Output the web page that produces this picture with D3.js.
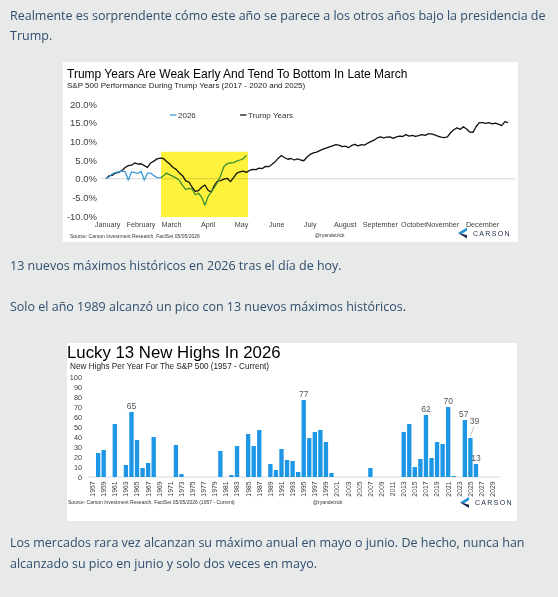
<!DOCTYPE html>
<html><head><meta charset="utf-8">
<script src="https://cdn.jsdelivr.net/npm/d3@7"></script>
<style>
html,body{margin:0;padding:0;background:#e8e9e9;}
svg{display:block;}
</style></head><body>
<svg id="page" width="558" height="597"></svg>
<script>
// ---------- Post text ----------
const paraLines = [
  "Realmente es sorprendente cómo este año se parece a los otros años bajo la presidencia de",
  "Trump.",
  "13 nuevos máximos históricos en 2026 tras el día de hoy.",
  "Solo el año 1989 alcanzó un pico con 13 nuevos máximos históricos.",
  "Los mercados rara vez alcanzan su máximo anual en mayo o junio. De hecho, nunca han",
  "alcanzado su pico en junio y solo dos veces en mayo."
];

// ---------- Chart 1 data ----------
const chart1Title = "Trump Years Are Weak Early And Tend To Bottom In Late March";
const chart1Subtitle = "S&P 500 Performance During Trump Years (2017 - 2020 and 2025)";
const chart1Source = "Source: Carson Investment Research, FactSet 05/05/2026";
const monthLabels = ["January","February","March","April","May","June","July","August","September","October","November","December"];
const monthTickDays = [1,22,41,64,85,107,128,150,172,193,211,236];
const yTicks1 = [-10,-5,0,5,10,15,20];
const dayStep = 2; // one value every 2 trading days
const trumpYears = [
  0,0.8,0.9,1.5,1.7,2.2,3.0,3.5,3.6,4.2,
  3.9,4.0,3.5,3.0,4.2,4.7,5.3,5.5,5.4,4.6,
  3.9,3.0,2.5,1.5,0.8,-0.6,-0.9,-2.3,-3.4,-3.2,
  -2.3,-1.7,-3.1,-3.6,-1.8,-0.6,-0.5,-0.1,0.1,-0.8,
  0.3,1.5,1.8,2.0,1.7,2.2,2.5,2.4,2.8,2.7,
  3.3,3.2,3.8,4.5,5.5,6.2,5.6,5.2,5.4,5.0,
  5.3,5.0,4.8,5.8,6.5,6.9,7.1,7.5,7.9,8.2,
  8.5,8.8,9.1,9.0,8.6,8.7,8.3,8.9,9.2,8.8,
  9.1,9.0,9.5,9.9,10.3,10.9,11.2,10.9,11.1,11.2,
  10.8,11.2,11.4,11.3,11.8,11.4,11.6,11.3,11.5,11.8,
  11.6,12.0,12.0,11.7,11.4,11.1,11.0,11.2,12.3,13.1,
  13.6,13.2,13.9,13.3,12.5,12.4,13.9,15.0,15.0,14.8,
  15.0,14.7,14.9,14.6,14.2,15.3,15.0
];
const year2026 = [
  0,0.5,1.3,1.7,1.8,2.0,1.9,-0.4,1.8,1.6,
  1.4,2.0,-0.4,1.5,1.5,0.8,0.3,0.2,0.8,1.5,
  1.0,0.6,0.2,-0.5,-1.8,-2.9,-2.6,-2.8,-4.3,-3.9,
  -5.0,-7.1,-4.8,-3.5,-2.3,-0.9,1.0,3.3,4.0,4.2,
  4.3,4.7,5.0,5.3,6.2
];
const highlight = {startDay: 34.5, endDay: 89, top: 7.2, bottom: -10.3};
const legend1 = [{name:"2026", color:"#3c97d6"}, {name:"Trump Years", color:"#111111"}];

// ---------- Chart 2 data ----------
const chart2Title = "Lucky 13 New Highs In 2026";
const chart2Subtitle = "New Highs Per Year For The S&P 500 (1957 - Current)";
const chart2Source = "Source: Carson Investment Research, FactSet 05/05/2026 (1957 - Current)";
const years = d3.range(1957, 2030);
const newHighs = [
  0,24,27,0,53,0,12,65,37,9,
  14,40,0,0,0,32,3,0,0,0,
  0,0,0,26,0,2,31,0,43,31,
  47,0,13,7,28,17,16,5,77,39,
  45,47,35,4,0,0,0,0,0,0,
  9,0,0,0,0,0,45,53,10,18,
  62,19,35,33,70,1,0,57,39,13,
  0,0,0
];
const labeledYears = [1964,1995,2017,2021,2024,2025,2026];
const yTicks2 = d3.range(0, 101, 10);

// ---------- Drawing ----------
const svg = d3.select("#page");
const TEXT_COLOR = "#304e6e";
const paraY = [19.5, 40, 269.5, 310.5, 547, 568];
svg.selectAll("text.para").data(paraLines).join("text")
  .attr("class","para")
  .attr("x", 10).attr("y", (d,i)=>paraY[i])
  .attr("font-family","'Open Sans', sans-serif").attr("font-size", 12.5)
  .attr("fill", TEXT_COLOR).text(d=>d);

const AX = "'Liberation Sans', Arial, sans-serif";

function carsonLogo(g, x, y) {
  g.append("path").attr("d", `M${x+9},${y-5.5} L${x},${y} L${x+4},${y+0.8} L${x+9},${y-2.5} Z`).attr("fill","#1f8fd8");
  g.append("path").attr("d", `M${x},${y} L${x+9},${y+5.5} L${x+9},${y+2.3} L${x+4},${y+0.8} Z`).attr("fill","#1a2a4c");
  g.append("text").attr("x", x+15).attr("y", y+2.6)
    .attr("font-family", AX).attr("font-size", 7).attr("letter-spacing", 1.3)
    .attr("fill","#1a2a4c").text("CARSON");
}

// ===== Chart 1 =====
const c1 = svg.append("g");
c1.append("rect").attr("x",63).attr("y",62).attr("width",455).attr("height",180).attr("fill","#fff");
c1.append("text").attr("x",67).attr("y",78).attr("font-family",AX).attr("font-size",12).attr("fill","#000").text(chart1Title);
c1.append("text").attr("x",67).attr("y",88).attr("font-family",AX).attr("font-size",8).attr("fill","#222").text(chart1Subtitle);

const x1 = d3.scaleLinear().domain([0, 252]).range([106, 508]);
const y1 = d3.scaleLinear().domain([-10, 20]).range([216, 104]);

c1.append("line").attr("x1",101).attr("x2",515).attr("y1",y1(0)).attr("y2",y1(0))
  .attr("stroke","#d9d9d9").attr("stroke-width",1);

const yAxis1 = c1.append("g").attr("transform","translate(100,0)")
  .call(d3.axisLeft(y1).tickValues(yTicks1).tickSize(0).tickPadding(3).tickFormat(d=>d.toFixed(1)+"%"));
yAxis1.select(".domain").remove();
yAxis1.selectAll("text").attr("font-family",AX).attr("font-size",9.5).attr("fill","#404040");

c1.selectAll("text.month").data(monthLabels).join("text").attr("class","month")
  .attr("x",(d,i)=>x1(monthTickDays[i])).attr("y",226.5).attr("text-anchor","middle")
  .attr("font-family",AX).attr("font-size",7.2).attr("fill","#404040").text(d=>d);

const line1 = d3.line().x((d,i)=>x1(i*dayStep)).y(d=>y1(d));
c1.append("path").datum(trumpYears).attr("d",line1).attr("fill","none")
  .attr("stroke",legend1[1].color).attr("stroke-width",1.3).attr("stroke-linejoin","round");
c1.append("path").datum(year2026).attr("d",line1).attr("fill","none")
  .attr("stroke",legend1[0].color).attr("stroke-width",1.3).attr("stroke-linejoin","round");

c1.append("rect").attr("x",x1(highlight.startDay)).attr("y",y1(highlight.top))
  .attr("width",x1(highlight.endDay)-x1(highlight.startDay))
  .attr("height",y1(highlight.bottom)-y1(highlight.top))
  .attr("fill","#fff23c").style("mix-blend-mode","multiply");

const lgX = [170, 240];
legend1.forEach((d,i)=>{
  c1.append("line").attr("x1",lgX[i]).attr("x2",lgX[i]+6.5).attr("y1",115).attr("y2",115)
    .attr("stroke",d.color).attr("stroke-width",1.3);
  c1.append("text").attr("x",lgX[i]+8).attr("y",117.8).attr("font-family",AX).attr("font-size",8)
    .attr("fill","#333").text(d.name);
});

c1.append("text").attr("x",70).attr("y",237.5).attr("font-family",AX).attr("font-size",5).attr("fill","#333").text(chart1Source);
c1.append("text").attr("x",315).attr("y",237).attr("font-family",AX).attr("font-size",5).attr("fill","#333").text("@ryandetrick");
carsonLogo(c1, 458, 233);

// ===== Chart 2 =====
const c2 = svg.append("g");
c2.append("rect").attr("x",67).attr("y",343).attr("width",450).attr("height",178).attr("fill","#fff");
c2.append("text").attr("x",67).attr("y",357.5).attr("font-family",AX).attr("font-size",16.8).attr("fill","#000").text(chart2Title);
c2.append("text").attr("x",70).attr("y",368.5).attr("font-family",AX).attr("font-size",8.2).attr("fill","#222").text(chart2Subtitle);

const x2 = d3.scaleBand().domain(years).range([89.8, 495.4]).paddingInner(0.22).paddingOuter(0.11);
const y2 = d3.scaleLinear().domain([0,100]).range([477, 377]);

c2.append("line").attr("x1",88).attr("x2",500).attr("y1",y2(0)).attr("y2",y2(0))
  .attr("stroke","#d9d9d9").attr("stroke-width",1);

const yAxis2 = c2.append("g").attr("transform","translate(85,0)")
  .call(d3.axisLeft(y2).tickValues(yTicks2).tickSize(0).tickPadding(3));
yAxis2.select(".domain").remove();
yAxis2.selectAll("text").attr("font-family",AX).attr("font-size",7.3).attr("fill","#404040");

const barData = years.map((yr,i)=>({year:yr, v:newHighs[i]}));
c2.selectAll("rect.bar").data(barData.filter(d=>d.v>0)).join("rect").attr("class","bar")
  .attr("x",d=>x2(d.year)).attr("width",x2.bandwidth())
  .attr("y",d=>y2(d.v)).attr("height",d=>y2(0)-y2(d.v)).attr("fill","#1e96e6");

c2.selectAll("text.yr").data(years.filter((d,i)=>i%2===0)).join("text").attr("class","yr")
  .attr("transform",d=>`translate(${x2(d)+x2.bandwidth()/2+2.4},481.5) rotate(-90)`)
  .attr("text-anchor","end").attr("font-family",AX).attr("font-size",6.8).attr("fill","#404040").text(d=>d);

labeledYears.forEach(yr=>{
  const v = newHighs[years.indexOf(yr)];
  const cx = x2(yr)+x2.bandwidth()/2;
  let lx = cx, ly = y2(v)-3;
  if (yr===2025) {
    lx = cx+4; ly = y2(v)-14;
    c2.append("line").attr("x1",cx+3.5).attr("y1",ly+2.5).attr("x2",cx).attr("y2",y2(v)-2)
      .attr("stroke","#999").attr("stroke-width",0.6);
  }
  if (yr===2024) lx = cx-1;
  c2.append("text").attr("x",lx).attr("y",ly).attr("text-anchor","middle")
    .attr("font-family",AX).attr("font-size",8.5).attr("fill","#555").text(v);
});

c2.append("text").attr("x",68).attr("y",504).attr("font-family",AX).attr("font-size",5).attr("fill","#333").text(chart2Source);
c2.append("text").attr("x",313).attr("y",504).attr("font-family",AX).attr("font-size",5).attr("fill","#333").text("@ryandetrick");
carsonLogo(c2, 460, 502.5);
</script>
</body></html>
